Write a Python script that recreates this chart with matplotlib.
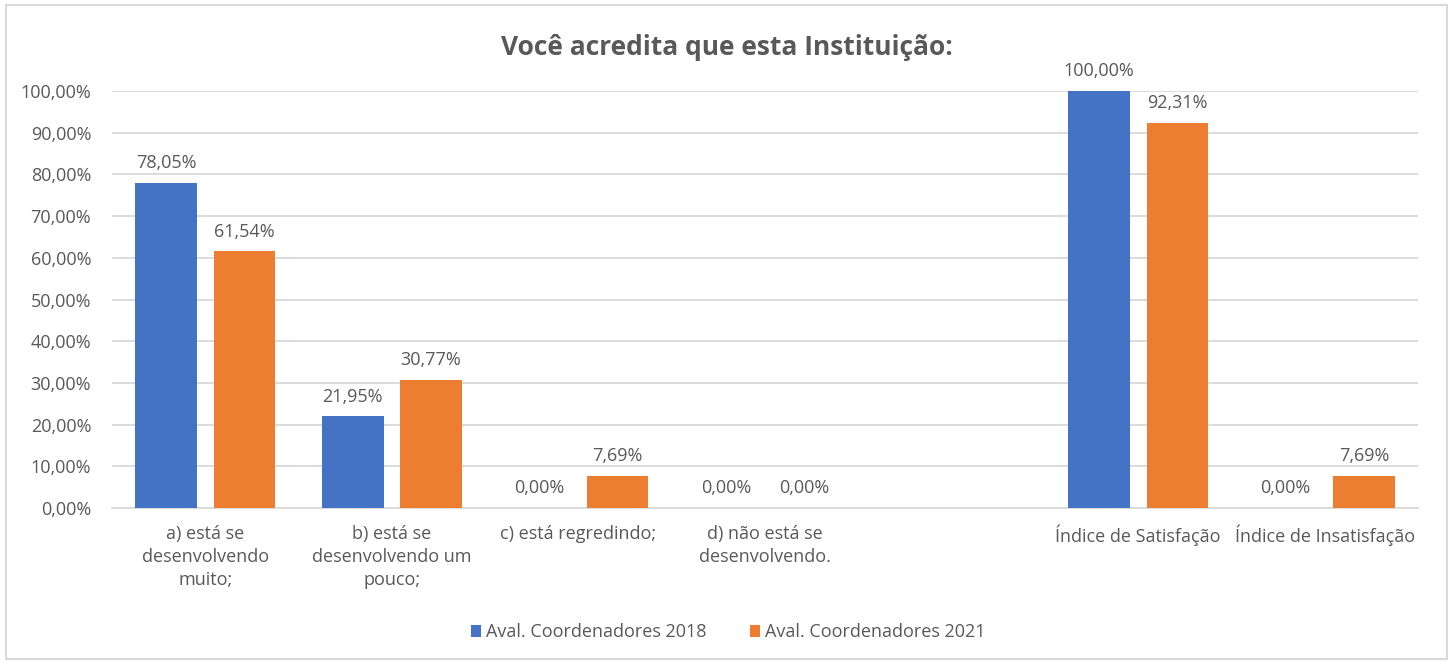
import matplotlib.pyplot as plt
from matplotlib.patches import Rectangle
import numpy as np

plt.rcParams['font.family'] = ['Open Sans', 'DejaVu Sans']

categories = ["a) está se\ndesenvolvendo\nmuito;", "b) está se\ndesenvolvendo um\npouco;",
              "c) está regredindo;", "d) não está se\ndesenvolvendo.", "",
              "Índice de Satisfação", "Índice de Insatisfação"]
aval_2018 = [78.05, 21.95, 0.00, 0.00, None, 100.00, 0.00]
aval_2021 = [61.54, 30.77, 7.69, 0.00, None, 92.31, 7.69]
series_names = ["Aval. Coordenadores 2018", "Aval. Coordenadores 2021"]
colors = ["#4472C4", "#ED7D31"]
yticks = np.arange(0, 101, 10)

gray = "#595959"
fs = 13
fig = plt.figure(figsize=(14.53, 6.62), dpi=100)
ax = fig.add_axes([0.0771, 0.2326, 0.8989, 0.6299])

# borda do gráfico
fig.patches.append(Rectangle((0.004, 0.004), 0.992, 0.988, transform=fig.transFigure,
                             fill=False, edgecolor="#d9d9d9", linewidth=1.5))

x = np.arange(len(categories))
w = 0.33
off = 0.21
for vals, d, c, name in [(aval_2018, -off, colors[0], series_names[0]),
                         (aval_2021, off, colors[1], series_names[1])]:
    xs = [xi + d for xi, v in zip(x, vals) if v is not None]
    vs = [v / 100 for v in vals if v is not None]
    bars = ax.bar(xs, vs, width=w, color=c, label=name, zorder=3)
    for b, v in zip(bars, vs):
        ax.text(b.get_x() + b.get_width() / 2, v + 0.026, f"{v*100:.2f}%".replace(".", ","),
                ha="center", va="bottom", fontsize=fs, color=gray)

ax.set_xlim(-0.5, len(categories) - 0.5)
ax.set_ylim(0, 1)
ax.set_yticks(yticks / 100)
ax.set_yticklabels([f"{t:.2f}%".replace(".", ",") for t in yticks], fontsize=fs, color=gray)
ax.set_xticks(x)
ax.set_xticklabels(categories, fontsize=fs, color=gray, linespacing=1.38)
ax.tick_params(axis="both", length=0)
ax.tick_params(axis="x", pad=12)
ax.tick_params(axis="y", pad=15)
ax.grid(axis="y", color="#d9d9d9", linewidth=1.3, zorder=0)
for s in ["top", "right", "left"]:
    ax.spines[s].set_visible(False)
ax.spines["bottom"].set_color("#d9d9d9")
ax.spines["bottom"].set_linewidth(1.3)

fig.text(0.5, 0.929, "Você acredita que esta Instituição:", ha="center", va="center",
         fontsize=19, fontweight="bold", color=gray)

fig.legend(loc="center", bbox_to_anchor=(0.501, 0.045), ncol=2, frameon=False,
           fontsize=fs, labelcolor=gray, handlelength=0.6, handleheight=0.6,
           handletextpad=0.25, columnspacing=2.4)

fig.savefig("out.png", dpi=100)
